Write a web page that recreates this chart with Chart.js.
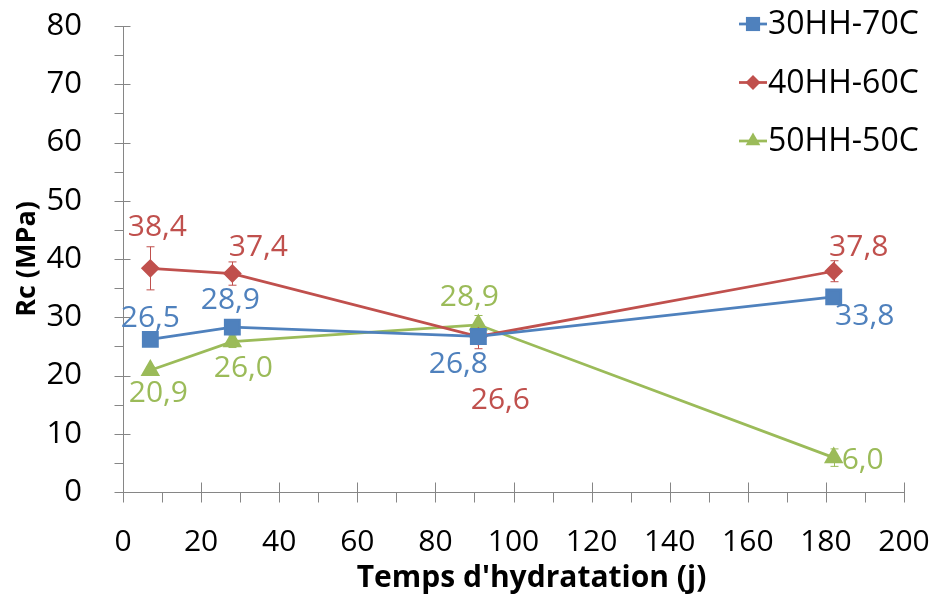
<!DOCTYPE html>
<html>
<head>
<meta charset="utf-8">
<script src="https://cdn.jsdelivr.net/npm/chart.js@4.4.1/dist/chart.umd.min.js"></script>
<style>
  html, body { margin: 0; background: #fff; }
</style>
</head>
<body>
<canvas id="myChart" width="930" height="599"></canvas>
<script>
// temps d'hydratation (jours)
const jours = [7, 28, 91, 182]

const rc30 = [26.2, 28.3, 26.7, 33.5]
const rc40 = [38.4, 37.5, 26.7, 37.9]
const rc50 = [20.9, 25.8, 28.7, 5.9]

// écarts (barres d'erreur)
const err30 = [0.7, 0.7, 0.9, 0.7]
const err40 = [3.7, 2.0, 2.1, 1.8]
const err50 = [0.6, 1.0, 1.6, 1.5]

// étiquettes affichées
const lab30 = ["26,5", "28,9", "26,8", "33,8"]
const lab40 = ["38,4", "37,4", "26,6", "37,8"]
const lab50 = ["20,9", "26,0", "28,9", "6,0"]

const noms = ["30HH-70C", "40HH-60C", "50HH-50C"]
const titreX = "Temps d'hydratation (j)"
const titreY = "Rc (MPa)"

const FONT = "'Open Sans', 'Noto Sans', sans-serif"
const GRIS = "#868686"

function pts(vals) {
  return vals.map((v, i) => ({ x: jours[i], y: v }))
}

// décalage des étiquettes (px) par rapport au point
const decal30 = [[0, -21], [-2, -27], [-20, 28], [31, 20]]
const decal40 = [[7, -41], [26, -26], [22, 64], [25, -24]]
const decal50 = [[8, 23], [11, 27], [-9, -27], [29, 3]]

const datasets = [
  { label: noms[0], data: pts(rc30), borderColor: "#4F81BD", backgroundColor: "#4F81BD",
    pointStyle: "rect", pointRadius: 10, pointHoverRadius: 10, borderWidth: 2.75,
    err: err30, etiq: lab30, decal: decal30 },
  { label: noms[1], data: pts(rc40), borderColor: "#C0504D", backgroundColor: "#C0504D",
    pointStyle: "rectRot", pointRadius: 7.5, pointHoverRadius: 7.5, borderWidth: 2.75,
    err: err40, etiq: lab40, decal: decal40 },
  { label: noms[2], data: pts(rc50), borderColor: "#9BBB59", backgroundColor: "#9BBB59",
    pointStyle: "triangle", pointRadius: 8.5, pointHoverRadius: 8.5, borderWidth: 2.75,
    err: err50, etiq: lab50, decal: decal50 }
]

const barresErreur = {
  id: "barresErreur",
  beforeDatasetsDraw(chart) {
    const { ctx, scales: { x, y } } = chart
    ctx.save()
    ctx.lineWidth = 1
    chart.data.datasets.forEach(ds => {
      ctx.strokeStyle = ds.borderColor
      ds.data.forEach((p, i) => {
        const px = Math.round(x.getPixelForValue(p.x)) + 0.5
        const yh = y.getPixelForValue(p.y + ds.err[i])
        const yb = y.getPixelForValue(p.y - ds.err[i])
        ctx.beginPath()
        ctx.moveTo(px, yh); ctx.lineTo(px, yb)
        ctx.moveTo(px - 4, yh); ctx.lineTo(px + 4, yh)
        ctx.moveTo(px - 4, yb); ctx.lineTo(px + 4, yb)
        ctx.stroke()
      })
    })
    ctx.restore()
  }
}

const etiquettes = {
  id: "etiquettes",
  afterDatasetsDraw(chart) {
    const { ctx, scales: { x, y } } = chart
    ctx.save()
    ctx.font = "30px " + FONT
    ctx.textAlign = "center"
    ctx.textBaseline = "middle"
    chart.data.datasets.forEach(ds => {
      ctx.fillStyle = ds.borderColor
      ds.data.forEach((p, i) => {
        const px = x.getPixelForValue(p.x) + ds.decal[i][0]
        const py = y.getPixelForValue(p.y) + ds.decal[i][1]
        ctx.fillText(ds.etiq[i], px, py)
      })
    })
    ctx.restore()
  }
}

const graduations = {
  id: "graduations",
  afterDraw(chart) {
    const { ctx, scales: { x, y } } = chart
    const y0 = Math.round(y.getPixelForValue(0)) + 0.5
    const x0 = Math.round(x.getPixelForValue(0)) + 0.5
    ctx.save()
    ctx.strokeStyle = GRIS
    ctx.lineWidth = 1
    ctx.beginPath()
    x.ticks.forEach((t, i) => {
      const px = Math.round(x.getPixelForValue(t.value)) + 0.5
      ctx.moveTo(px, y0 - 10); ctx.lineTo(px, y0 + 10)
      if (i < x.ticks.length - 1) {
        const pm = Math.round(x.getPixelForValue((t.value + x.ticks[i + 1].value) / 2)) + 0.5
        ctx.moveTo(pm, y0); ctx.lineTo(pm, y0 + 10)
      }
    })
    y.ticks.forEach((t, i) => {
      const py = Math.round(y.getPixelForValue(t.value)) + 0.5
      ctx.moveTo(x0 - 9, py); ctx.lineTo(x0 + 7, py)
      if (i < y.ticks.length - 1) {
        const pm = Math.round(y.getPixelForValue((t.value + y.ticks[i + 1].value) / 2)) + 0.5
        ctx.moveTo(x0 - 9, pm); ctx.lineTo(x0, pm)
      }
    })
    ctx.stroke()

    // titre de l'axe x (un peu décalé à droite comme dans l'original)
    ctx.fillStyle = "#000"
    ctx.font = "bold 30px " + FONT
    ctx.textAlign = "center"
    ctx.textBaseline = "alphabetic"
    ctx.fillText(titreX, (x.left + x.right) / 2 + 18, 587)
    ctx.restore()
  }
}

const legende = {
  id: "legende",
  afterDraw(chart) {
    const { ctx } = chart
    ctx.save()
    ctx.font = "32px " + FONT
    ctx.textBaseline = "middle"
    ctx.textAlign = "left"
    chart.data.datasets.forEach((ds, i) => {
      const ly = 24 + i * 58.5
      ctx.strokeStyle = ds.borderColor
      ctx.lineWidth = 2.75
      ctx.beginPath(); ctx.moveTo(739, ly); ctx.lineTo(767, ly); ctx.stroke()
      ctx.fillStyle = ds.borderColor
      Chart.helpers.drawPoint(ctx, { pointStyle: ds.pointStyle, radius: ds.pointRadius, borderWidth: 0 }, 753, ly)
      ctx.fillStyle = "#000"
      ctx.fillText(ds.label, 768, ly + 1)
    })
    ctx.restore()
  }
}

const config = {
  type: "line",
  data: { datasets },
  options: {
    responsive: false,
    animation: false,
    layout: { padding: { top: 26, right: 26, left: 0, bottom: 0 } },
    plugins: { legend: { display: false }, tooltip: { enabled: false } },
    scales: {
      x: {
        type: "linear", min: 0, max: 200,
        ticks: { stepSize: 20, color: "#000", font: { family: FONT, size: 30 }, padding: 24, maxRotation: 0 },
        grid: { display: false },
        border: { color: GRIS, width: 1 },
        title: { display: false },
        afterFit(scale) {
          scale.height = 107
          scale.paddingLeft = 0
          scale.paddingRight = 0
        }
      },
      y: {
        min: 0, max: 80,
        ticks: { stepSize: 10, color: "#000", font: { family: FONT, size: 31 }, padding: 33 },
        grid: { display: false },
        border: { color: GRIS, width: 1 },
        title: { display: true, text: titreY, color: "#000",
          font: { family: FONT, size: 27, weight: "bold" }, padding: { top: 11, bottom: 0 } },
        afterFit(scale) {
          scale.width = 123
          scale.paddingTop = 0
          scale.paddingBottom = 0
        }
      }
    }
  },
  plugins: [barresErreur, etiquettes, graduations, legende]
}

new Chart(document.getElementById("myChart"), config)
</script>
</body>
</html>
